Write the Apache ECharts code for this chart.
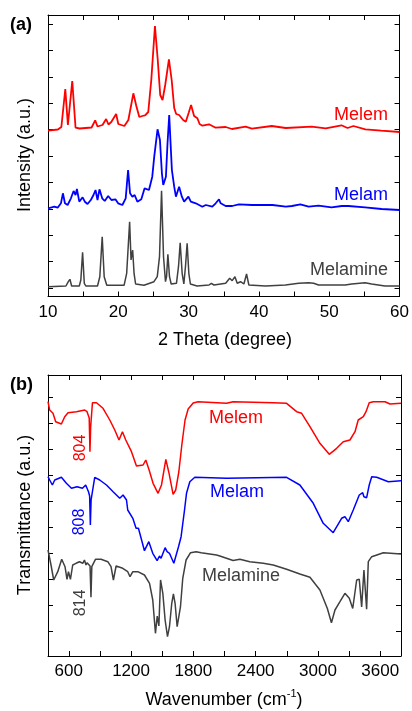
<!DOCTYPE html>
<html>
<head>
<meta charset="utf-8">
<script src="https://cdn.jsdelivr.net/npm/echarts@6/dist/echarts.min.js"></script>
<style>
  html, body { margin: 0; padding: 0; background: #fff; }
  #chart { width: 412px; height: 711px; }
</style>
</head>
<body>
<div id="chart"></div>
<script>
// ---- (a) XRD patterns: [2theta (deg), intensity (a.u., stacked)] ----
const xrdMelem = [
  [10,165.8],[11.4,167],[11.9,169.5],[12.46,207.5],[12.83,171.5],[13.45,215.5],[13.92,168.8],[14.5,168],
  [16.2,169],[16.71,176.2],[17.04,170],[17.75,171.5],[18.27,177.5],[18.6,172],[19.0,174.5],[19.69,182.5],
  [20.0,172.5],[20.86,170.5],[21.43,176.5],[22.14,203.2],[22.56,190.5],[22.99,179.5],[23.41,180.5],[23.8,181.2],
  [24.26,184.5],[24.69,216.5],[25.21,270.5],[25.61,236.5],[25.96,201.5],[26.29,196.5],[26.67,211.5],[27.2,237.2],
  [27.59,216.5],[27.95,188.5],[28.23,182.5],[28.65,181.5],[29.22,176.5],[29.6,174.8],[30.0,183.5],[30.35,191.5],
  [30.78,180.5],[31.25,178.2],[31.56,172.5],[31.96,170.8],[32.9,172.2],[33.85,168.8],[35.27,169.5],[36.16,167.5],
  [38.1,169.8],[39.0,167.8],[41.83,170.5],[43.81,168.5],[47.5,169.8],[49.5,168.2],[51.74,171.2],[52.6,168.5],
  [53.44,170.5],[55.14,167.2],[57.4,165.8],[60,164.5]
];
const xrdMelam = [
  [10,88.2],[10.91,89.8],[11.37,88.8],[11.84,93.2],[12.12,103.2],[12.41,93.2],[12.79,91.5],[13.26,98.2],
  [13.64,105.5],[13.92,101.5],[14.11,107.5],[14.45,94.8],[14.92,99.2],[15.24,94.8],[15.62,92.5],[16.09,96.5],
  [16.47,101.5],[16.76,106.5],[17.04,96.5],[17.32,107.2],[17.71,98.2],[18.07,95.5],[18.56,100.5],[19.02,96.5],
  [19.59,97.2],[19.97,93.2],[20.58,91.5],[21.05,98.2],[21.39,126.5],[21.67,103.2],[22.0,99.8],[22.32,101.5],
  [22.71,94.8],[23.27,97.2],[23.74,108.2],[24.02,109.8],[24.36,106.5],[24.83,119.8],[25.11,139.8],[25.58,167.2],
  [25.92,156.5],[26.2,123.2],[26.39,111.5],[26.77,119.8],[27.0,153.2],[27.24,181.5],[27.48,146.5],[27.62,126.5],
  [27.95,109.8],[28.19,99.8],[28.65,109.8],[29.04,99.8],[29.36,94.8],[29.97,99.8],[30.31,94.8],[31.02,93.2],
  [31.95,89.8],[32.44,91.5],[33.37,89.8],[33.85,93.2],[34.32,97.2],[34.56,93.2],[35.27,90.5],[36.2,90.5],
  [37.15,92.2],[39.04,91.5],[41.93,91.5],[43.82,89.8],[44.7,90.5],[45.89,92.2],[47.07,89.8],[48.48,90.8],
  [50.33,89.2],[51.78,90.5],[52.73,90.5],[55.1,89.2],[57.45,87.5],[60,86.5]
];
const xrdMelamine = [
  [10,9.8],[12.55,10.5],[12.89,14.8],[13.12,17.2],[13.36,10.5],[14.45,10.5],[14.67,16.5],[14.92,44.2],
  [15.16,13.2],[15.38,10.5],[17.04,10.5],[17.37,19.8],[17.71,59.8],[17.99,19.8],[18.36,11.2],[20.82,11.2],
  [21.19,23.2],[21.61,74.8],[21.81,36.5],[22.04,46.5],[22.24,23.2],[22.46,12.5],[23.65,11.2],[25.07,14.8],
  [25.54,19.8],[25.86,39.8],[26.15,105.8],[26.43,39.8],[26.71,14.8],[26.86,19.8],[27.05,42.2],[27.28,19.8],
  [27.52,12.5],[28.27,13.2],[28.56,29.8],[28.8,53.8],[29.08,23.2],[29.32,12.5],[29.55,29.8],[29.79,53.2],
  [30.03,23.2],[30.25,12.5],[31.2,10.5],[32.9,11.5],[33.23,13.2],[33.61,11.5],[35.27,13.2],[35.84,18.2],
  [36.2,15.8],[36.59,19.8],[36.91,13.2],[37.39,14.8],[37.86,12.5],[38.24,22.5],[38.57,11.5],[40.93,10.5],
  [43.77,11.5],[45.65,13.2],[47.07,13.8],[47.78,13.2],[48.48,11.5],[50.37,11.5],[52.27,11.5],[53.2,12.5],
  [55.1,13.8],[56.03,12.5],[57.93,10.5],[60,10.5]
];

// ---- (b) FTIR spectra: [wavenumber (cm-1), transmittance (a.u., stacked)] ----
const irMelem = [
  [400,254.3],[416,246],[448,242.7],[474,234.3],[529,232],[561,239.3],[593,243.3],[674,244.3],[754,246],
  [776,244.3],[797,238],[804,204.3],[811,229.3],[828,253.3],[867,253.3],[930,247.7],[995,236],[1043,226],
  [1084,216],[1117,224.3],[1149,216],[1204,204.3],[1252,190],[1316,191],[1342,196],[1374,186],[1412,172.7],
  [1460,162.7],[1493,171],[1535,196.7],[1566,182.7],[1605,161.7],[1630,166],[1660,184],[1690,212],[1720,236],
  [1750,247],[1798,253],[1846,254.3],[2120,252.7],[2183,254.3],[2569,253.3],[2698,252.7],[2795,244.3],
  [2843,242.7],[2923,229.3],[3019,212.7],[3109,201.7],[3180,207.7],[3244,214.3],[3308,216],[3357,224.3],
  [3388,236],[3437,239.3],[3463,244.3],[3479,246],[3494,253.3],[3533,254.3],[3646,254.3],[3694,252],[3800,252.7]
];
const irMelam = [
  [400,179.3],[416,176],[442,171],[465,176],[529,178.7],[577,172.7],[626,167.7],[680,169.3],[732,167.7],
  [763,171],[790,164.3],[801,160],[808,131],[815,156],[850,178.7],[898,176],[963,171],[1027,164.3],[1091,157.7],
  [1123,161],[1156,156],[1168,146],[1217,137.7],[1248,127.7],[1271,127.7],[1297,117.7],[1329,105.3],[1371,114.3],
  [1409,102.7],[1451,95.3],[1474,100],[1489,97.7],[1528,108.3],[1547,104.3],[1570,102.7],[1612,92.7],[1657,109.3],
  [1682,119.3],[1715,146],[1734,162.7],[1766,174.3],[1814,178.7],[2120,177.7],[2698,178.7],[2826,171],
  [2955,152.7],[3051,132.7],[3147,123.3],[3228,137.7],[3260,139.3],[3292,134.3],[3340,146],[3398,161],
  [3431,163.3],[3443,159.3],[3469,158.3],[3494,171],[3518,179.3],[3566,178.7],[3678,174.3],[3800,175.3]
];
const irMelamine = [
  [400,106],[429,91],[455,76],[494,84.3],[532,96.7],[564,89.3],[583,76.7],[597,84.3],[616,76.7],[638,91],
  [670,92.7],[703,94.3],[735,92.7],[751,96],[766,91],[776,93.3],[805,90],[814,58.7],[822,89.3],[857,96.7],
  [911,96.7],[976,94.3],[1007,89.3],[1030,76],[1056,90],[1120,87.7],[1168,84.3],[1190,79.3],[1217,84.3],
  [1265,84.3],[1329,81],[1378,72.7],[1409,56],[1435,22.7],[1452,40],[1468,30],[1484,76],[1506,62.7],
  [1528,36],[1551,19.3],[1570,29.3],[1592,52.7],[1608,62],[1624,52.7],[1644,29.3],[1657,27.7],[1676,49.3],
  [1698,77.7],[1730,96],[1773,103.3],[1827,104.3],[1875,103.3],[2023,101],[2055,100],[2183,95.5],[2248,96.7],
  [2344,94.3],[2473,92.7],[2569,91],[2698,86.7],[2826,82],[2923,78.7],[3019,66],[3090,47.7],[3130,33.3],
  [3164,46],[3212,54.3],[3260,62.7],[3302,57.7],[3335,47.5],[3373,76],[3398,76.7],[3421,49],[3443,86],
  [3453,86],[3469,46.7],[3485,94.3],[3518,99.3],[3630,103.3],[3800,102]
];

// axis ticks / labels
const xrdTickLabels = [10, 20, 30, 40, 50, 60];
const irTickLabels = [600, 1200, 1800, 2400, 3000, 3600];
const irMinorTicks = [600, 900, 1200, 1500, 1800, 2100, 2400, 2700, 3000, 3300, 3600];

const RED = '#ff0000', BLUE = '#0000ff', GREY = '#404040';
const FONT = '"Liberation Sans", Arial, Helvetica, sans-serif';

const yTicksA = [];
for (let k = 0; k <= 10; k++) yTicksA.push(8.5 + 26.4 * k);
const yTicksB = [];
for (let k = 0; k <= 9; k++) yTicksB.push(25 + 26 * k);

const chart = echarts.init(document.getElementById('chart'), null, { renderer: 'canvas' });

function frameAxis(extra) {
  return Object.assign({
    type: 'value',
    splitLine: { show: false },
    axisLine: { show: true, onZero: false, lineStyle: { color: '#000', width: 1 } },
    axisTick: { show: true, inside: true, length: 5, lineStyle: { color: '#000', width: 1 } },
    axisLabel: { show: false }
  }, extra);
}

function line(data, color, xi, yi, w) {
  return {
    type: 'line', data: data, xAxisIndex: xi, yAxisIndex: yi,
    symbol: 'none', showSymbol: false, silent: true,
    lineStyle: { color: color, width: w }
  };
}

const labelStyle = { fontSize: 17, color: '#000', fontFamily: FONT };

chart.setOption({
  animation: false,
  backgroundColor: '#fff',
  grid: [
    { left: 48, right: 11, top: 15, height: 281.5 },
    { left: 48, right: 11, top: 375, height: 281 }
  ],
  xAxis: [
    frameAxis({ gridIndex: 0, position: 'bottom', min: 10, max: 60, interval: 5,
      axisLabel: Object.assign({ show: true, margin: 7,
        formatter: v => (xrdTickLabels.indexOf(v) >= 0 ? String(v) : '') }, labelStyle) }),
    frameAxis({ gridIndex: 0, position: 'top', min: 10, max: 60, interval: 5 }),
    frameAxis({ gridIndex: 1, position: 'bottom', min: 400, max: 3800,
      axisTick: { show: true, inside: true, length: 5, customValues: irMinorTicks, lineStyle: { color: '#000' } },
      axisLabel: Object.assign({ show: true, margin: 7, customValues: irTickLabels,
        formatter: v => String(Math.round(v)) }, labelStyle) }),
    frameAxis({ gridIndex: 1, position: 'top', min: 400, max: 3800,
      axisTick: { show: true, inside: true, length: 5, customValues: irMinorTicks, lineStyle: { color: '#000' } } })
  ],
  yAxis: [
    frameAxis({ gridIndex: 0, position: 'left', min: 0, max: 281.5,
      axisTick: { show: true, inside: true, length: 5, customValues: yTicksA, lineStyle: { color: '#000' } } }),
    frameAxis({ gridIndex: 0, position: 'right', min: 0, max: 281.5,
      axisTick: { show: true, inside: true, length: 5, customValues: yTicksA, lineStyle: { color: '#000' } } }),
    frameAxis({ gridIndex: 1, position: 'left', min: 0, max: 281,
      axisTick: { show: true, inside: true, length: 5, customValues: yTicksB, lineStyle: { color: '#000' } } }),
    frameAxis({ gridIndex: 1, position: 'right', min: 0, max: 281,
      axisTick: { show: true, inside: true, length: 5, customValues: yTicksB, lineStyle: { color: '#000' } } })
  ],
  series: [
    line(xrdMelamine, GREY, 0, 0, 1.5),
    line(xrdMelam, BLUE, 0, 0, 1.8),
    line(xrdMelem, RED, 0, 0, 1.8),
    line(irMelamine, GREY, 2, 2, 1.5),
    line(irMelam, BLUE, 2, 2, 1.5),
    line(irMelem, RED, 2, 2, 1.5)
  ],
  graphic: [
    // panel tags
    { type: 'text', left: 10, top: 16, style: { text: '(a)', fill: '#000', font: 'bold 18px ' + FONT } },
    { type: 'text', left: 10, top: 376, style: { text: '(b)', fill: '#000', font: 'bold 18px ' + FONT } },
    // axis titles
    { type: 'text', x: 225, y: 340, style: { text: '2 Theta (degree)', font: '18px ' + FONT, fill: '#000', align: 'center', verticalAlign: 'middle' } },
    { type: 'text', x: 224, y: 700, style: {
        text: 'Wavenumber (cm{sup|-1})', font: '18px ' + FONT, fill: '#000', align: 'center', verticalAlign: 'middle',
        rich: { sup: { fontSize: 11, fontFamily: FONT, fill: '#000', padding: [0, 0, 12, 0] } } } },
    { type: 'text', x: 25, y: 155, rotation: Math.PI / 2, style: { text: 'Intensity (a.u.)', font: '18px ' + FONT, fill: '#000', align: 'center', verticalAlign: 'middle' } },
    { type: 'text', x: 25, y: 515, rotation: Math.PI / 2, style: { text: 'Transmittance (a.u.)', font: '18px ' + FONT, fill: '#000', align: 'center', verticalAlign: 'middle' } },
    // trace names, panel (a)
    { type: 'text', x: 388, y: 115, style: { text: 'Melem', font: '18px ' + FONT, fill: RED, align: 'right', verticalAlign: 'middle' } },
    { type: 'text', x: 388, y: 195, style: { text: 'Melam', font: '18px ' + FONT, fill: BLUE, align: 'right', verticalAlign: 'middle' } },
    { type: 'text', x: 388, y: 270, style: { text: 'Melamine', font: '18px ' + FONT, fill: GREY, align: 'right', verticalAlign: 'middle' } },
    // trace names, panel (b)
    { type: 'text', x: 236, y: 418, style: { text: 'Melem', font: '18px ' + FONT, fill: RED, align: 'center', verticalAlign: 'middle' } },
    { type: 'text', x: 237, y: 492, style: { text: 'Melam', font: '18px ' + FONT, fill: BLUE, align: 'center', verticalAlign: 'middle' } },
    { type: 'text', x: 241, y: 576, style: { text: 'Melamine', font: '18px ' + FONT, fill: GREY, align: 'center', verticalAlign: 'middle' } },
    // triazine ring bending band positions
    { type: 'text', x: 81, y: 448, rotation: Math.PI / 2, style: { text: '804', font: '16px ' + FONT, fill: RED, align: 'center', verticalAlign: 'middle' } },
    { type: 'text', x: 80, y: 522, rotation: Math.PI / 2, style: { text: '808', font: '16px ' + FONT, fill: BLUE, align: 'center', verticalAlign: 'middle' } },
    { type: 'text', x: 81, y: 603, rotation: Math.PI / 2, style: { text: '814', font: '16px ' + FONT, fill: GREY, align: 'center', verticalAlign: 'middle' } }
  ]
});
</script>
</body>
</html>
